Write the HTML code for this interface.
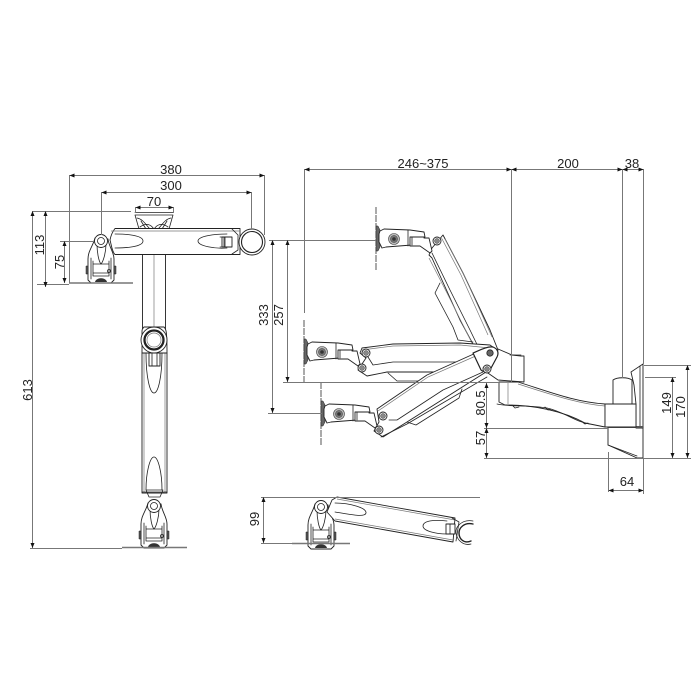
<!DOCTYPE html>
<html><head><meta charset="utf-8"><style>
html,body{margin:0;padding:0;background:#fff}
svg{display:block;filter:blur(.3px)}
text{font-family:"Liberation Sans",sans-serif;font-size:13px;fill:#222}
.d line,.d path{stroke:#777;stroke-width:1;fill:none}
.a{stroke:#222;stroke-width:.8;fill:none;stroke-linejoin:round;stroke-linecap:round}
.f{stroke:#222;stroke-width:.9;fill:#fff;stroke-linejoin:round}
.g{stroke:#777;stroke-width:.7;fill:none}
</style></head><body>
<svg width="700" height="700" viewBox="0 0 700 700" xmlns="http://www.w3.org/2000/svg">
<defs>
<marker id="m" viewBox="0 0 5 4" refX="5" refY="2" markerWidth="5" markerHeight="4" markerUnits="userSpaceOnUse" orient="auto-start-reverse"><path d="M0,0L5,2L0,4Z" fill="#111"/></marker>
<g id="br">
<path class="f" d="M-6,-3C-8,5 -13,10 -13,18L-13,39L-10,42L10,42L13,39L13,18C13,11 8,6 7,-2Z"/>
<path class="a" d="M-4,3C-4,12 -2,21 0,23C2,21 5,12 5,3"/>
<circle class="f" cx="0" cy="0" r="6.5"/><circle class="a" cx="0" cy="0" r="3.5"/>
<path class="a" d="M-10,17L-10,38M10,17L10,38M-8,20L-8,35L8,35L8,20M-8,23L8,23M-8,32L8,32"/>
<path d="M-15,25h2v8h-2zM13,25h2v8h-2z" fill="#555" stroke="#222" stroke-width=".5"/>
<path d="M-6,41C-5,36 5,36 6,41Z" fill="#333"/>
<circle class="a" cx="8" cy="30" r="1.5"/>
</g>
<g id="hd">
<path d="M-18,-32V32" fill="none" stroke="#555" stroke-width="1" stroke-dasharray="7 1"/>
<path d="M-18,-13h2l2,4v17l-2,4h-2z" fill="#666" stroke="#222" stroke-width=".5"/>
<path class="f" d="M-14,-8L-10,-10L16,-9L30,-7L31,-2L18,-2L18,6L-8,8L-12,9L-15,3L-15,-5Z"/>
<path class="f" d="M16,-2H30V-1L35,-1L38,12L36,14L26,7L16,7Z"/>
<path class="a" d="M14,-9V7M18,-2V6"/>
<circle cx="0" cy="0" r="5.5" fill="#bbb" stroke="#444" stroke-width=".6"/><circle cx="0" cy="0" r="3.5" fill="#777" stroke="#333" stroke-width=".5"/><circle cx="0" cy="0" r="1.8" fill="#333"/>
</g>
<g id="pv"><circle cx="0" cy="0" r="4" fill="#fff" stroke="#222" stroke-width=".9"/><circle cx="0" cy="0" r="2.5" fill="#888" stroke="#444" stroke-width=".5"/></g>
</defs>

<!-- wall mount -->
<path class="f" d="M608,427V445L637,458H643V427Z"/>
<path class="a" d="M608,445L637,456"/>
<path class="f" d="M613,380C617,377 628,377 632,380V404H613Z"/>
<path class="f" d="M631,372L643,364V428H636V404L634,385Z"/>
<path class="a" d="M640,366V428"/>
<path class="f" d="M518,382C550,392 575,402 605,404L605,427L585,423C570,415 545,405 505,405L499,402V382Z"/>
<path class="g" d="M518,384C550,394 578,404 605,406"/>
<path d="M608,426H643V428H608Z" fill="#555"/>
<path class="f" d="M605,404H636V427H605Z"/>
<path class="a" d="M497,404C510,407 530,405 547,408C565,412 575,422 590,424M512,405l3,3l4,-1M545,407l3,3l3,-1M581,421l4,3l3,-1"/>
<path class="g" d="M508,383V404"/>
<path class="f" d="M498,349L512,355L521,356H524V382L498,380L485,371Z"/>
<path class="a" d="M510,355H521"/>

<!-- upper arm -->
<path class="f" d="M443,235L463,273L490,330L498,350L487,370L460,320L432,258L429,255L432,248Z"/>
<path class="g" d="M445,239L465,277L492,337M441,237L461,275L488,335"/>
<path class="a" d="M432,253L450,290L470,330L487,365"/>
<path class="g" d="M429,258L447,293L467,333L484,367"/>
<path class="a" d="M440,283L435,293L453,327L458,340L473,342"/>
<use href="#hd" x="394" y="239"/>
<use href="#pv" x="437" y="241"/>

<!-- middle arm -->
<path class="a" d="M388,373L397,381L448,381L457,373"/>
<path class="f" d="M362,348L393,344L460,343L490,345L497,350L490,370L482,370L467,372L387,372L367,376L358,370L366,358L360,353Z"/>
<path class="g" d="M362,350L393,346L460,345L490,348"/>
<path class="a" d="M368,357L373,365L393,362L460,362L477,367"/>
<use href="#hd" x="322" y="352"/>
<use href="#pv" x="366" y="353"/>
<use href="#pv" x="362" y="368"/>

<!-- lower arm -->
<path class="a" d="M407,422L416,425L459,398L462,389"/>
<path class="f" d="M377,409L427,375L487,348L490,352L486,372L407,422L383,437L374,431L379,422Z"/>
<path class="g" d="M378,411L428,377L487,351"/>
<path class="a" d="M381,437L407,424L487,377"/>
<path class="a" d="M389,420L397,420L443,390L483,372"/>
<use href="#hd" x="339" y="414"/>
<use href="#pv" x="383" y="416"/>
<use href="#pv" x="379" y="430"/>

<!-- elbow hub -->
<path class="f" d="M473,353C480,350 488,346 493,347C498,349 499,353 497,357L490,370C487,372 483,372 481,370Z" style="stroke-width:1.2"/>
<circle cx="490" cy="353" r="3.2" fill="#666" stroke="#222" stroke-width=".8"/>
<use href="#pv" x="487" y="369"/>

<!-- top-left view -->
<path class="f" d="M135,215H173L169,229H139Z" style="stroke-width:.8"/>
<path class="a" d="M135,212.5H173M137,218C143,219 146,225 150,229M171,218C165,219 162,225 158,229M141,221L146,229M167,221L162,229M140,227C147,222 151,225 154,229C157,225 161,222 168,227"/>
<use href="#br" x="101" y="241"/>
<path class="f" d="M142.5,254H165.5V330H142.5Z"/>
<path class="g" d="M154,255V330"/>
<path class="f" d="M115,228.5H240V254.5H115C112,252 111,243 110,240C111,235 113,231 115,228.5Z"/>
<path class="g" d="M111,231H240"/>
<path class="a" d="M115,234C125,234 143,235 143,241C143,247 125,248 115,248"/>
<path class="a" d="M227,234C215,234 198,236 198,241C198,246 215,249 227,248"/>
<path class="f" d="M222,237H232V247H222Z"/>
<path class="a" d="M225,237V247M220,237H224V247H220M232,229L238,235V250L232,254"/>
<circle class="f" cx="252" cy="242" r="13"/><circle class="a" cx="252" cy="242" r="10.5" style="stroke-width:1.1"/>
<path d="M69,283H133" stroke="#777" stroke-width="1.5"/>

<!-- vertical column -->
<path class="f" d="M142,353H167V493H142Z"/>
<path class="g" d="M144,353V493M165,353V493"/>
<path class="a" d="M146,353C146,378 150,393 154,393C158,393 162,378 162,353"/>
<path class="a" d="M146,490C146,472 150,457 154,457C158,457 162,472 162,490"/>
<path class="f" d="M149,353H160V366H149Z"/><path class="a" d="M152,353V366M157,353V366"/>
<path class="f" d="M142,332C142,330 142,329 144,327H164C166,329 167,330 167,353H142Z"/>
<circle class="f" cx="154" cy="340" r="13"/><circle cx="154" cy="340" r="9.5" fill="none" stroke="#222" stroke-width="2.3"/><circle class="g" cx="154" cy="340" r="7"/>
<path class="a" d="M142,492H167M146,490L163,490L160,497L149,497Z"/>
<use href="#br" x="154" y="506"/>
<path d="M122,547.5H187" stroke="#777" stroke-width="1.5"/>

<!-- bottom view -->
<use href="#br" x="321" y="507"/>
<path class="f" d="M337,497L455,518L453,542L335,521L327,512L332,500Z"/>
<path class="g" d="M337,499L455,520M335,519L453,540"/>
<path class="a" d="M335,503C350,503 367,508 366,513C365,518 348,514 335,512"/>
<path class="a" d="M447,521C430,519 423,522 423,526C423,531 436,534 447,534"/>
<path class="f" d="M446,524H455V534H446Z"/>
<path class="a" d="M450,524V534M452,518L459,522L456,541"/>
<path class="a" d="M473,524C464,522 459,528 459,533C459,539 464,544 471,541" style="stroke-width:1.4"/>
<path class="a" d="M473,521C462,519 455,527 456,533C457,540 463,546 471,544"/>
<path d="M292,543.5H350" stroke="#777" stroke-width="1.5"/>

<!-- dimensions -->
<g class="d">
<line x1="69.5" y1="175" x2="69.5" y2="283"/>
<line x1="264.5" y1="175" x2="264.5" y2="235"/>
<line x1="101.5" y1="192" x2="101.5" y2="235"/>
<line x1="251.5" y1="192" x2="251.5" y2="229"/>
<line x1="135.5" y1="207" x2="135.5" y2="213"/>
<line x1="173.5" y1="207" x2="173.5" y2="213"/>
<line x1="32" y1="211.5" x2="131" y2="211.5"/>
<line x1="60" y1="241.5" x2="94" y2="241.5"/>
<line x1="37" y1="284.5" x2="69" y2="284.5"/>
<line x1="30" y1="548.5" x2="122" y2="548.5"/>
<line x1="269" y1="240.5" x2="376" y2="240.5"/>
<line x1="283" y1="382.5" x2="486" y2="382.5"/>
<line x1="268" y1="413.5" x2="322" y2="413.5"/>
<line x1="304.5" y1="169" x2="304.5" y2="313"/>
<line x1="511.5" y1="169" x2="511.5" y2="382"/>
<line x1="622.5" y1="169" x2="622.5" y2="378"/>
<line x1="643.5" y1="169" x2="643.5" y2="364"/>
<line x1="643.5" y1="458" x2="643.5" y2="494"/>
<line x1="608.5" y1="452" x2="608.5" y2="492"/>
<line x1="644" y1="365.5" x2="691" y2="365.5"/>
<line x1="645" y1="377.5" x2="676" y2="377.5"/>
<line x1="484" y1="458.5" x2="691" y2="458.5"/>
<line x1="484" y1="428.5" x2="608" y2="428.5"/>
<line x1="484" y1="382.5" x2="500" y2="382.5"/>
<line x1="261" y1="497.5" x2="480" y2="497.5"/>
<line x1="261" y1="543.5" x2="292" y2="543.5"/>
<g marker-start="url(#m)" marker-end="url(#m)">
<line x1="69.5" y1="175.5" x2="264.5" y2="175.5"/>
<line x1="101.5" y1="192.5" x2="251.5" y2="192.5"/>
<line x1="135.5" y1="207.5" x2="173.5" y2="207.5"/>
<line x1="32.5" y1="211" x2="32.5" y2="548"/>
<line x1="45.5" y1="211" x2="45.5" y2="287"/>
<line x1="64.5" y1="241" x2="64.5" y2="283"/>
<line x1="272.5" y1="240" x2="272.5" y2="413"/>
<line x1="287.5" y1="240" x2="287.5" y2="382"/>
<line x1="304.5" y1="169.5" x2="511.5" y2="169.5"/>
<line x1="511.5" y1="169.5" x2="622.5" y2="169.5"/>
<line x1="622.5" y1="169.5" x2="643.5" y2="169.5"/>
<line x1="687.5" y1="365" x2="687.5" y2="458"/>
<line x1="672.5" y1="377" x2="672.5" y2="458"/>
<line x1="486.5" y1="383" x2="486.5" y2="428"/>
<line x1="486.5" y1="428" x2="486.5" y2="458"/>
<line x1="608.5" y1="490.5" x2="643.5" y2="490.5"/>
<line x1="263.5" y1="497" x2="263.5" y2="543"/>
</g>
</g>

<!-- labels -->
<g text-anchor="middle">
<text x="171" y="174">380</text>
<text x="171" y="190">300</text>
<text x="154" y="206">70</text>
<text x="423" y="168">246~375</text>
<text x="568" y="168">200</text>
<text x="632" y="168">38</text>
<text x="627" y="486">64</text>
<text transform="translate(44,245) rotate(-90)">113</text>
<text transform="translate(64,262) rotate(-90)">75</text>
<text transform="translate(32,390) rotate(-90)">613</text>
<text transform="translate(268,315) rotate(-90)">333</text>
<text transform="translate(283,315) rotate(-90)">257</text>
<text transform="translate(485,403) rotate(-90)">80.5</text>
<text transform="translate(485,438) rotate(-90)">57</text>
<text transform="translate(671,403) rotate(-90)">149</text>
<text transform="translate(685,407) rotate(-90)">170</text>
<text transform="translate(259,519) rotate(-90)">99</text>
</g>
</svg>
</body></html>
